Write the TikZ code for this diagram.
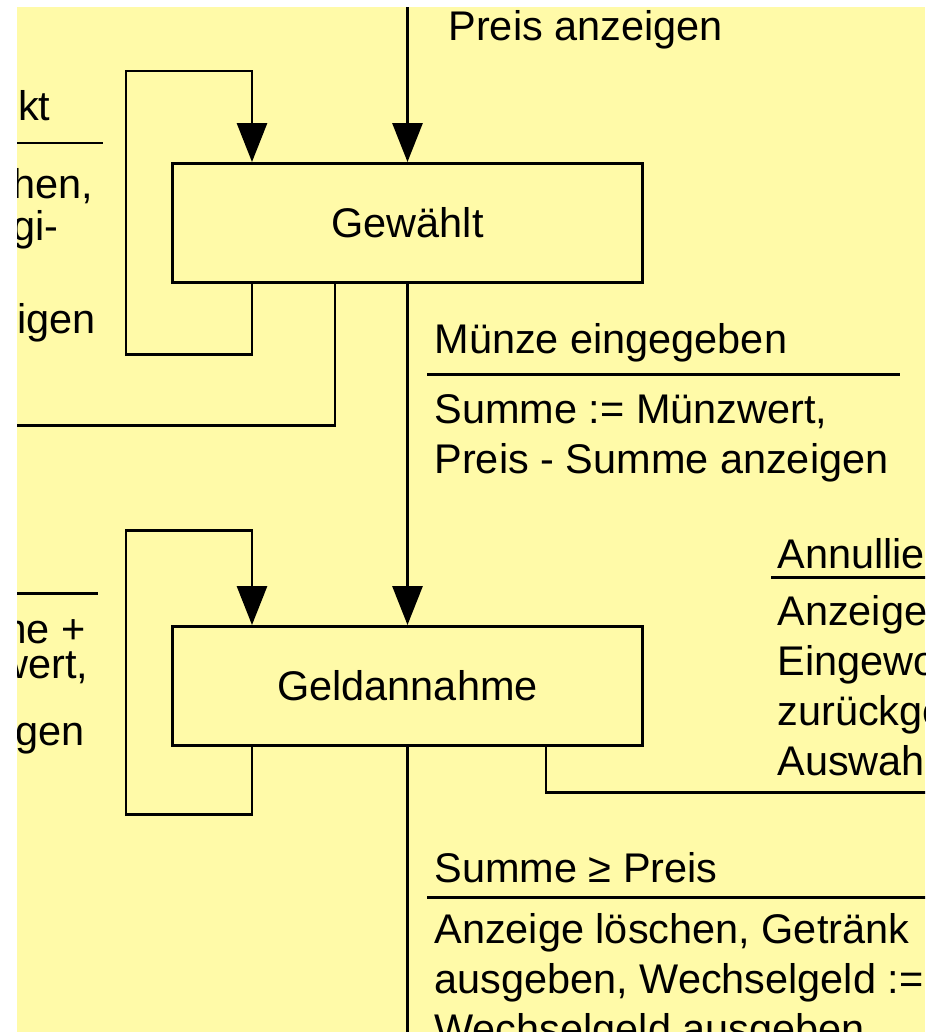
\documentclass[tikz,border=0pt]{standalone}
\usepackage{fontspec}
\setmainfont{Liberation Sans}
\usetikzlibrary{arrows.meta,calc,positioning}
\definecolor{zettel}{RGB}{255,250,168}

\begin{document}
\begin{tikzpicture}[x=0.02cm,y=-0.02cm,line width=1.7pt,
  every node/.style={font=\fontsize{23.6}{28.4}\selectfont},
  state/.style={draw,rectangle,fill=zettel,minimum width=9.42cm,minimum height=2.38cm,inner sep=0pt},
  trans/.style={-{Triangle[width=0.6cm,length=0.78cm]}},
  label/.style={anchor=base west,align=left,inner sep=0pt},
  cut/.style={anchor=base east,inner sep=0pt}]
  \useasboundingbox (0,0) rectangle (938,1032);
  \fill[zettel] (17,7) rectangle (925,1032);
  \begin{scope}
  \clip (17,7) rectangle (925,1032);
  % Zustaende
  \node[state] (gewaehlt) at (407.5,223) {Gewählt};
  \node[state] (geld) at (407.5,686) {Geldannahme};
  % Hilfspunkte
  \coordinate (oben) at (407.5,0);
  \coordinate (unten) at (407.5,1040);
  \coordinate (gl) at (252,354);
  \coordinate (glo) at (126,71);
  \coordinate (dl) at (252,814);
  \coordinate (dlo) at (126,530);
  \coordinate (weg) at (335,425);
  \coordinate (links) at (0,425);
  \coordinate (ann) at (546,792);
  \coordinate (rechts) at (940,792);
  % Uebergaenge
  \draw[trans] (oben) -- (gewaehlt.north);
  \draw[trans] (gewaehlt.south) -- (geld.north);
  \draw (geld.south) -- (unten);
  \draw[trans] (gewaehlt.south -| gl) -- (gl) -| (glo) -| (gewaehlt.north -| gl);
  \draw[trans] (geld.south -| dl) -- (dl) -| (dlo) -| (geld.north -| dl);
  \draw (gewaehlt.south -| weg) |- (links);
  \draw (geld.south -| ann) |- (rechts);
  % Beschriftungen (base = letzte Zeile)
  \node[label] (preis) at (447,40) {Preis anzeigen};
  \node[label] (muenze) at (433,353) {Münze eingegeben};
  \draw (427,374) -- (900,374);
  \node[label] (summe) at (433,473) {Summe := Münzwert,\\Preis - Summe anzeigen};
  \node[label] (annull) at (776,568) {Annullie};
  \draw (771,577) -- (940,577);
  \node[label] (loeschen) at (776,775) {Anzeige\\Eingewo\\zurückge\\Auswahl};
  \node[label] (genug) at (433,882) {Summe ≥ Preis};
  \draw (427,897) -- (940,897);
  \node[label] (ausgabe) at (433,1043) {Anzeige löschen, Getränk\\ausgeben, Wechselgeld :=\\Wechselgeld ausgeben};
  % links abgeschnitten
  \node[cut] (w1) at (52,120) {ekt};
  \draw (0,143) -- (103,143);
  \node[cut] (w2) at (95,198) {hen,};
  \node[cut] (w3) at (60,240) {gi-};
  \node[cut] (w4) at (97,333) {eigen};
  \draw (0,593) -- (98,593);
  \node[cut] (m1) at (87,643) {me +};
  \node[cut] (m2) at (90,678) {wert,};
  \node[cut] (m3) at (86,745) {gen};
  \end{scope}
\end{tikzpicture}
\end{document}
